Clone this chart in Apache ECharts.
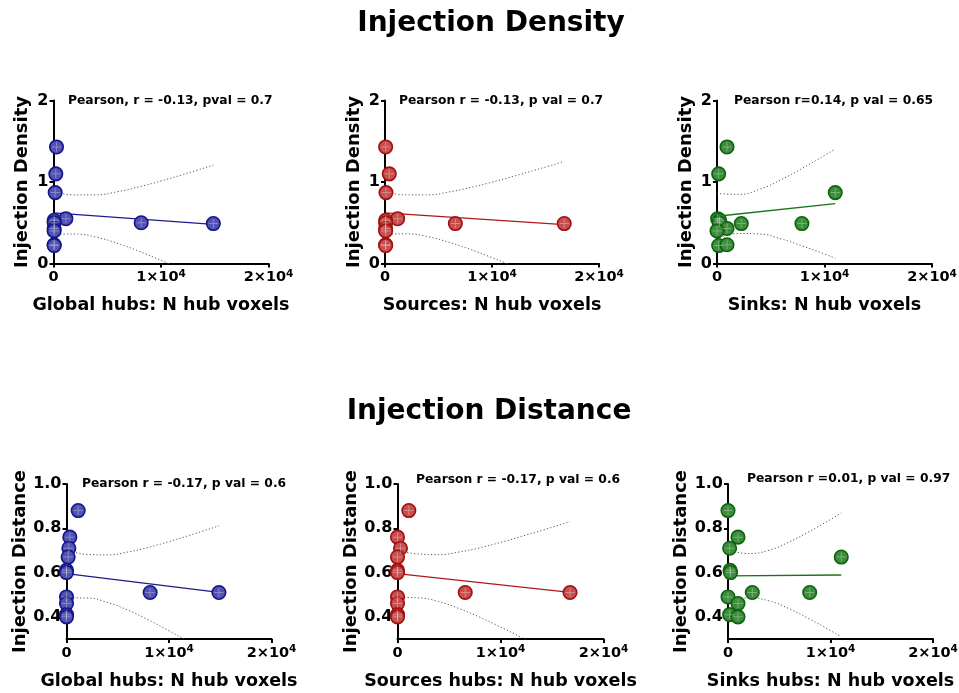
<!DOCTYPE html>
<html><head><meta charset="utf-8">
<script src="https://cdn.jsdelivr.net/npm/echarts@6/dist/echarts.min.js"></script>
<style>html,body{margin:0;padding:0;background:#fff}#c{width:959px;height:693px}</style>
</head><body><div id="c"></div>
<script>
// ---------- DATA ----------
const sectionTitles = ['Injection Density', 'Injection Distance'];
const yNames = ['Injection Density', 'Injection Distance'];
const xNames = ['Global hubs: N hub voxels', 'Sources: N hub voxels', 'Sinks: N hub voxels',
                'Global hubs: N hub voxels', 'Sources hubs: N hub voxels', 'Sinks hubs: N hub voxels'];
const pearsonTexts = ['Pearson, r = -0.13, pval = 0.7', 'Pearson r = -0.13, p val = 0.7', 'Pearson r=0.14, p val = 0.65',
                      'Pearson r = -0.17, p val = 0.6', 'Pearson r = -0.17, p val = 0.6', 'Pearson r =0.01, p val = 0.97'];

const xTickValues = [0, 10000, 20000];
const xTickLabels = ['0', '1×10^4', '2×10^4'];
const yTickValuesDensity = [0, 1, 2];
const yTickLabelsDensity = ['0', '1', '2'];
const yTickValuesDistance = [0.4, 0.6, 0.8, 1.0];
const yTickLabelsDistance = ['0.4', '0.6', '0.8', '1.0'];

// Injection density panels
const densGlobalX  = [280, 215, 155, 1150, 60, 60, 8160, 14870, 60, 60, 60, 60];
const densGlobalY  = [1.43, 1.10, 0.87, 0.55, 0.53, 0.50, 0.50, 0.49, 0.43, 0.40, 0.23, 0.22];
const densSourceX  = [60, 400, 90, 1180, 60, 60, 6575, 16750, 60, 60, 60, 60];
const densSourceY  = [1.43, 1.10, 0.87, 0.55, 0.53, 0.50, 0.49, 0.49, 0.43, 0.40, 0.23, 0.22];
const densSinkX    = [930, 155, 11000, 60, 250, 200, 2260, 7900, 930, 0, 155, 930];
const densSinkY    = [1.43, 1.10, 0.87, 0.55, 0.53, 0.50, 0.49, 0.49, 0.43, 0.40, 0.22, 0.23];
// Injection distance panels
const distGlobalX  = [1140, 325, 230, 160, 0, 0, 8160, 14870, 0, 0, 0, 0];
const distGlobalY  = [0.88, 0.76, 0.71, 0.67, 0.61, 0.60, 0.51, 0.51, 0.49, 0.46, 0.41, 0.40];
const distSourceX  = [1100, 0, 290, 0, 0, 0, 6575, 16750, 0, 0, 0, 0];
const distSourceY  = [0.88, 0.76, 0.71, 0.67, 0.61, 0.60, 0.51, 0.51, 0.49, 0.46, 0.41, 0.40];
const distSinkX    = [0, 975, 160, 11050, 200, 250, 2370, 7970, 0, 975, 160, 975];
const distSinkY    = [0.88, 0.76, 0.71, 0.67, 0.61, 0.60, 0.51, 0.51, 0.49, 0.46, 0.41, 0.40];

// Fitted lines (end points)
const fitX1 = [0, 14870], fitY1 = [0.62, 0.48];
const fitX2 = [0, 16750], fitY2 = [0.62, 0.478];
const fitX3 = [0, 11000], fitY3 = [0.58, 0.735];
const fitX4 = [0, 14870], fitY4 = [0.595, 0.511];
const fitX5 = [0, 16750], fitY5 = [0.595, 0.511];
const fitX6 = [0, 11050], fitY6 = [0.585, 0.589];

// 95% confidence bands (dotted)
const bandX1 = [0, 2000, 4000, 6000, 8000, 10000, 12000, 14870];
const bandUp1 = [0.884, 0.841, 0.843, 0.882, 0.942, 1.013, 1.090, 1.207];
const bandLo1 = [0.356, 0.362, 0.322, 0.245, 0.148, 0.039, -0.076, -0.247];
const bandX2 = [0, 2000, 4000, 6000, 8000, 10000, 12000, 14000, 16750];
const bandUp2 = [0.882, 0.842, 0.843, 0.878, 0.933, 0.998, 1.070, 1.145, 1.252];
const bandLo2 = [0.358, 0.364, 0.329, 0.260, 0.172, 0.072, -0.034, -0.143, -0.296];
const bandX3 = [0, 2000, 4000, 6000, 8000, 10000, 11000];
const bandUp3 = [0.860, 0.848, 0.912, 1.030, 1.173, 1.326, 1.405];
const bandLo3 = [0.301, 0.369, 0.361, 0.300, 0.213, 0.116, 0.065];
const bandX4 = [0, 2000, 4000, 6000, 8000, 10000, 12000, 14870];
const bandUp4 = [0.704, 0.682, 0.680, 0.693, 0.714, 0.740, 0.768, 0.811];
const bandLo4 = [0.486, 0.485, 0.465, 0.430, 0.386, 0.337, 0.286, 0.211];
const bandX5 = [0, 2000, 4000, 6000, 8000, 10000, 12000, 14000, 16750];
const bandUp5 = [0.702, 0.684, 0.681, 0.693, 0.712, 0.736, 0.763, 0.790, 0.830];
const bandLo5 = [0.488, 0.486, 0.469, 0.437, 0.398, 0.354, 0.308, 0.260, 0.192];
const bandX6 = [0, 2000, 4000, 6000, 8000, 10000, 11050];
const bandUp6 = [0.702, 0.686, 0.701, 0.739, 0.787, 0.840, 0.869];
const bandLo6 = [0.468, 0.486, 0.472, 0.436, 0.389, 0.338, 0.310];

// ---------- STYLE / LAYOUT ----------
const FONT = '"DejaVu Sans", sans-serif';
const palettes = {
  blue:  {fill: '#5252b2', border: '#15158a', line: '#1c1c8e'},
  red:   {fill: '#c65050', border: '#a20f0f', line: '#b01818'},
  green: {fill: '#3e8c3e', border: '#0c640c', line: '#177417'}
};
const panels = [
  {grid:{left:53.5, top:100.5, width:215, height:163}, kind:'density', xs:densGlobalX, ys:densGlobalY, fx:fitX1, fy:fitY1, bx:bandX1, bu:bandUp1, bl:bandLo1, pal:'blue',  px:68,  py:101, yGap:22},
  {grid:{left:385,  top:100.5, width:214, height:163}, kind:'density', xs:densSourceX, ys:densSourceY, fx:fitX2, fy:fitY2, bx:bandX2, bu:bandUp2, bl:bandLo2, pal:'red',   px:399, py:101, yGap:22},
  {grid:{left:717,  top:100.5, width:215, height:163}, kind:'density', xs:densSinkX, ys:densSinkY, fx:fitX3, fy:fitY3, bx:bandX3, bu:bandUp3, bl:bandLo3, pal:'green', px:734, py:101, yGap:22},
  {grid:{left:66.5, top:484,   width:205, height:155}, kind:'distance', xs:distGlobalX, ys:distGlobalY, fx:fitX4, fy:fitY4, bx:bandX4, bu:bandUp4, bl:bandLo4, pal:'blue',  px:82,  py:484, yGap:35},
  {grid:{left:397.5,top:484,   width:206, height:155}, kind:'distance', xs:distSourceX, ys:distSourceY, fx:fitX5, fy:fitY5, bx:bandX5, bu:bandUp5, bl:bandLo5, pal:'red',   px:416, py:480, yGap:35},
  {grid:{left:728,  top:484,   width:205, height:155}, kind:'distance', xs:distSinkX, ys:distSinkY, fx:fitX6, fy:fitY6, bx:bandX6, bu:bandUp6, bl:bandLo6, pal:'green', px:747, py:479, yGap:35}
];

function xFmt(v) {
  const i = xTickValues.indexOf(v);
  const s = i >= 0 ? xTickLabels[i] : String(v);
  const parts = s.split('^');
  return parts.length > 1 ? '{n|' + parts[0] + '}{s|' + parts[1] + '}' : '{n|' + s + '}';
}

const grids = [], xAxes = [], yAxes = [], series = [], graphics = [];
panels.forEach((p, i) => {
  const pal = palettes[p.pal];
  grids.push(Object.assign({containLabel:false, outerBoundsMode:'none', show:false}, p.grid));
  xAxes.push({
    gridIndex:i, type:'value', min:0, max:20000, interval:10000,
    axisLine:{show:true, onZero:false, lineStyle:{color:'#000', width:2}},
    axisTick:{show:true, length:4, customValues:xTickValues, lineStyle:{color:'#000', width:2}},
    axisLabel:{show:true, margin:5, customValues:xTickValues, showMinLabel:true, showMaxLabel:true, formatter:xFmt,
      rich:{
        n:{fontFamily:FONT, fontWeight:'bold', fontSize:14.5, color:'#000', lineHeight:18},
        s:{fontFamily:FONT, fontWeight:'bold', fontSize:10.5, color:'#000', lineHeight:10, verticalAlign:'top'}
      }},
    splitLine:{show:false},
    name:xNames[i], nameLocation:'middle', nameGap:33,
    nameTextStyle:{fontFamily:FONT, fontWeight:'bold', fontSize:17.5, color:'#000'}
  });
  const dens = p.kind === 'density';
  const yv = dens ? yTickValuesDensity : yTickValuesDistance;
  const yl = dens ? yTickLabelsDensity : yTickLabelsDistance;
  yAxes.push({
    gridIndex:i, type:'value', min: dens ? 0 : 0.3, max: dens ? 2 : 1.0,
    axisLine:{show:true, onZero:false, lineStyle:{color:'#000', width:2}},
    axisTick:{show:true, length:4, customValues:yv, lineStyle:{color:'#000', width:2}},
    axisLabel:{show:true, margin:5, customValues:yv, showMinLabel:true, showMaxLabel:true,
      formatter:(v) => { const k = yv.findIndex(t => Math.abs(t - v) < 1e-9); return k >= 0 ? yl[k] : ''; },
      fontFamily:FONT, fontWeight:'bold', fontSize:16, color:'#000'},
    splitLine:{show:false},
    name:yNames[dens ? 0 : 1], nameLocation:'middle', nameGap:p.yGap,
    nameTextStyle:{fontFamily:FONT, fontWeight:'bold', fontSize:18, color:'#000'}
  });
  const bandStyle = {type:[1.2, 2.2], color:'#555', width:1};
  series.push({type:'line', xAxisIndex:i, yAxisIndex:i, data:p.bx.map((x,k)=>[x,p.bu[k]]), smooth:0.5, symbol:'none', lineStyle:bandStyle, silent:true, z:1, clip:true});
  series.push({type:'line', xAxisIndex:i, yAxisIndex:i, data:p.bx.map((x,k)=>[x,p.bl[k]]), smooth:0.5, symbol:'none', lineStyle:bandStyle, silent:true, z:1, clip:true});
  series.push({type:'line', xAxisIndex:i, yAxisIndex:i, data:p.fx.map((x,k)=>[x,p.fy[k]]), symbol:'none', lineStyle:{color:pal.line, width:1.3}, silent:true, z:2});
  series.push({type:'scatter', xAxisIndex:i, yAxisIndex:i, data:p.xs.map((x,k)=>[x,p.ys[k]]), symbol:'circle', symbolSize:13.5,
    itemStyle:{color:pal.fill, borderColor:pal.border, borderWidth:1.6, opacity:1}, silent:true, z:3});
  series.push({type:'scatter', xAxisIndex:i, yAxisIndex:i, data:p.xs.map((x,k)=>[x,p.ys[k]]),
    symbol:'path://M4.45,0H5.55V4.45H10V5.55H5.55V10H4.45V5.55H0V4.45H4.45Z', symbolSize:9,
    itemStyle:{color:'rgba(255,255,255,0.4)'}, silent:true, z:4});
  graphics.push({type:'text', x:p.px, y:p.py, silent:true,
    style:{text:pearsonTexts[i], font:'bold 12.3px ' + FONT, fill:'#000', align:'left', verticalAlign:'middle'}});
});
graphics.push({type:'text', x:491, y:24, silent:true, style:{text:sectionTitles[0], font:'bold 28px ' + FONT, fill:'#000', align:'center', verticalAlign:'middle'}});
graphics.push({type:'text', x:489, y:412, silent:true, style:{text:sectionTitles[1], font:'bold 28px ' + FONT, fill:'#000', align:'center', verticalAlign:'middle'}});

const chart = echarts.init(document.getElementById('c'), null, {renderer:'canvas'});
chart.setOption({
  animation:false,
  backgroundColor:'#fff',
  grid:grids, xAxis:xAxes, yAxis:yAxes, series:series, graphic:graphics
});
</script>
</body></html>
